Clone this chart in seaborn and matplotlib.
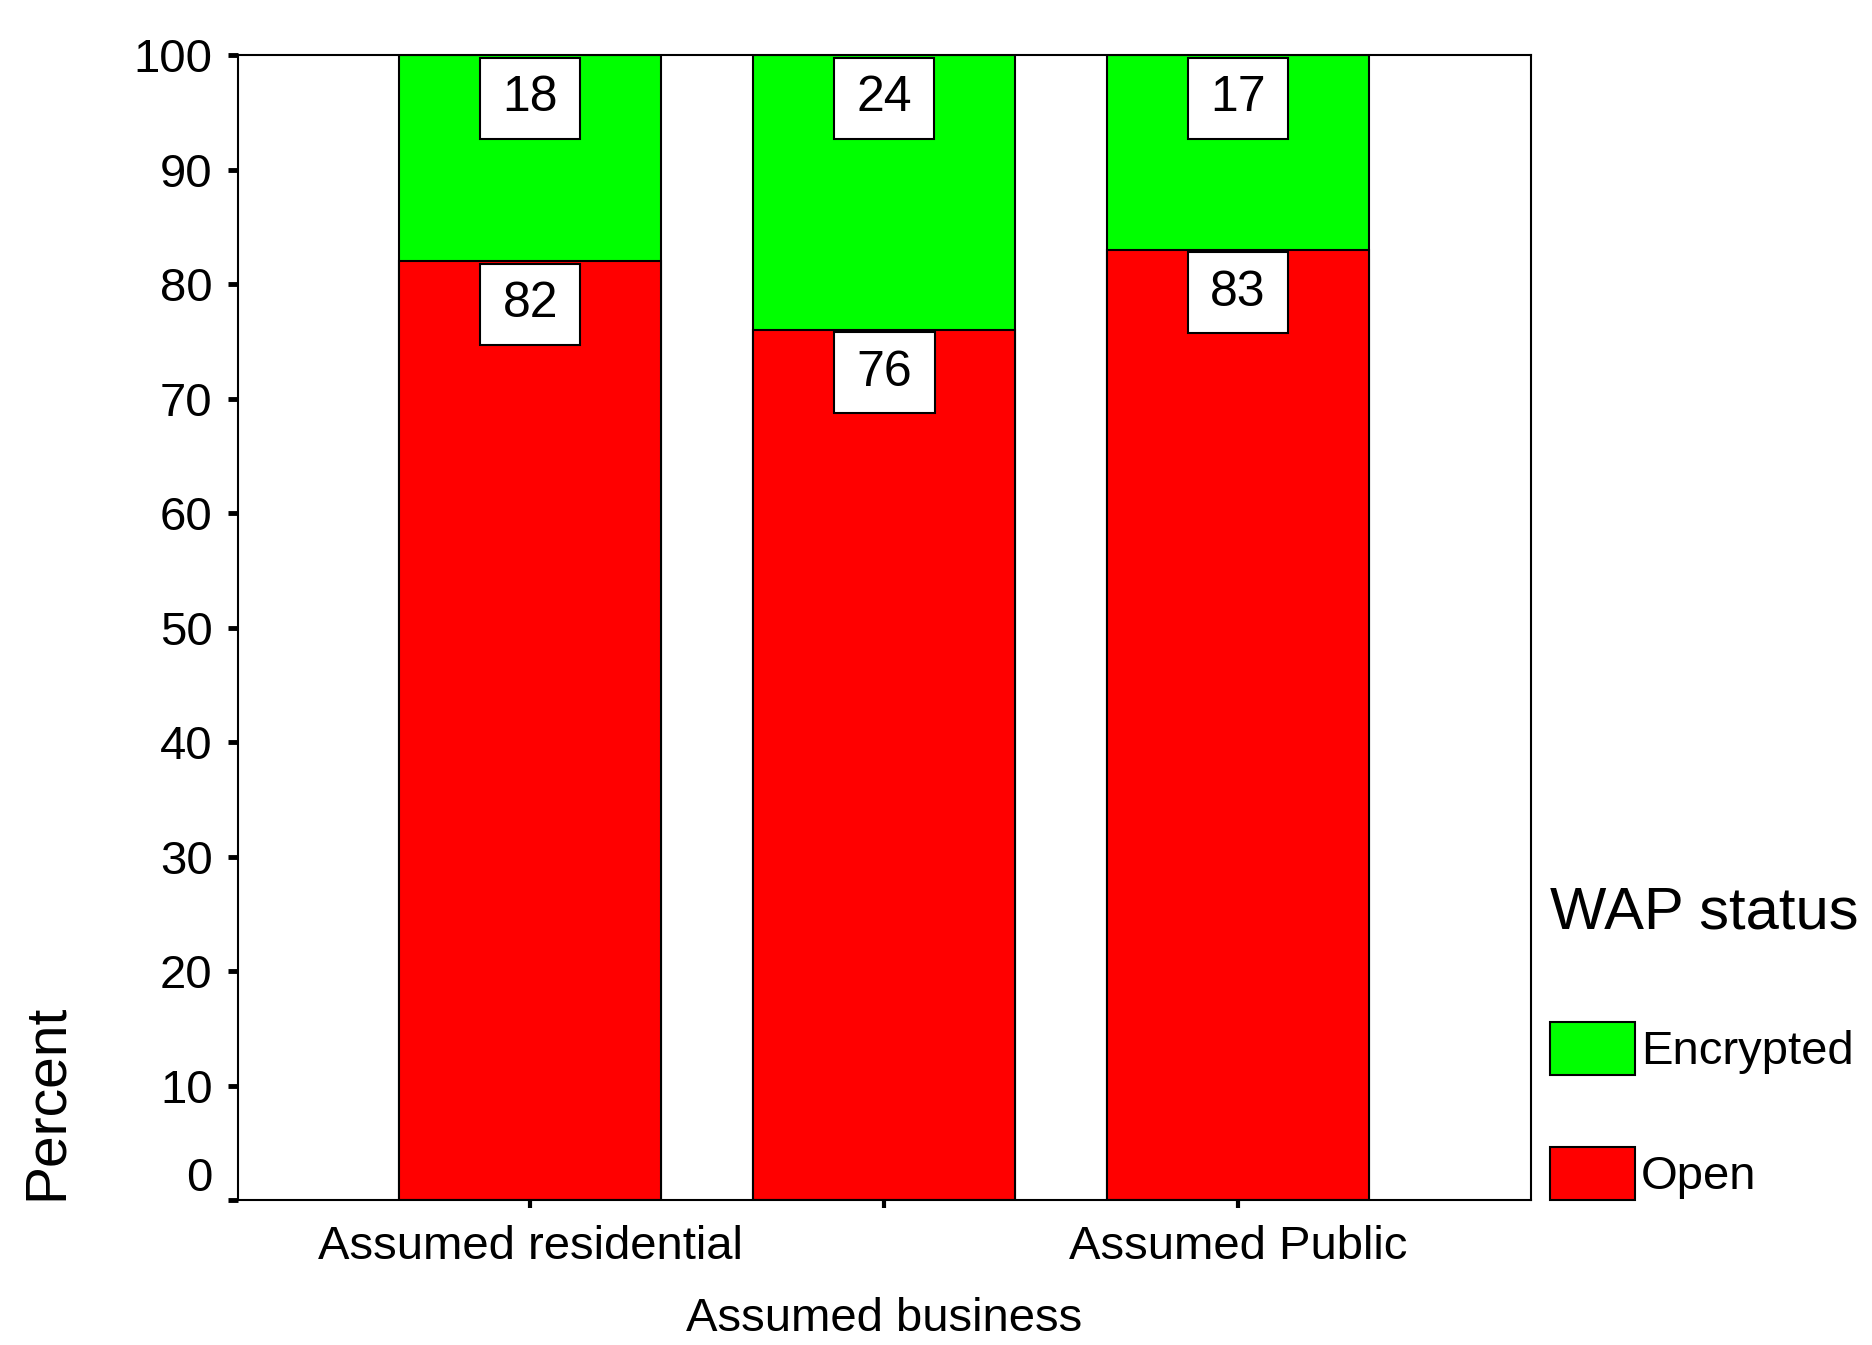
import matplotlib
matplotlib.use("Agg")
import matplotlib.pyplot as plt
import matplotlib.transforms as mtransforms
from matplotlib.path import Path
import seaborn as sns

# Share of wireless access points by assumed location type
categories = ["Assumed residential", "Assumed business", "Assumed Public"]
open_pct = [82, 76, 83]
encrypted_pct = [18, 24, 17]
y_ticks = [0, 10, 20, 30, 40, 50, 60, 70, 80, 90, 100]

totals = [o + e for o, e in zip(open_pct, encrypted_pct)]

sns.set_theme(style="ticks")
plt.rcParams["font.family"] = ["Liberation Sans", "DejaVu Sans"]
plt.rcParams["text.color"] = "black"
plt.rcParams["axes.labelcolor"] = "black"

GREEN = "#00FF00"
RED = "#FF0000"
LABEL_SIZE = 34


def value_box(x0, y0, width, height, mutation_size):
    """Rectangle around a value label, wider padding left/right than top/bottom."""
    px = 0.45 * mutation_size
    py = 0.35 * mutation_size
    x0, y0 = x0 - px, y0 - py
    x1, y1 = x0 + width + 2 * px, y0 + height + 2 * py
    return Path([(x0, y0), (x1, y0), (x1, y1), (x0, y1), (x0, y0)], closed=True)


fig = plt.figure(figsize=(18.72, 13.45), dpi=100)
ax = fig.add_axes([0.1269, 0.1078, 0.6908, 0.8513])

# Stacked bars: full height in green first, open share in red on top of it
sns.barplot(x=categories, y=totals, color=GREEN, saturation=1, width=0.74,
            edgecolor="black", linewidth=1.5, label="Encrypted", ax=ax)
sns.barplot(x=categories, y=open_pct, color=RED, saturation=1, width=0.74,
            edgecolor="black", linewidth=1.5, label="Open", ax=ax)

# Boxed value labels hanging just below the top of each segment
box = dict(boxstyle=value_box, facecolor="white", edgecolor="black", linewidth=1.5)
for i in range(len(categories)):
    for top, val in ((totals[i], encrypted_pct[i]), (open_pct[i], open_pct[i])):
        ax.annotate(f"{val}", xy=(i, top), xytext=(0, -14.5), textcoords="offset points",
                    ha="center", va="top", fontsize=36, color="black", bbox=box)

ax.set_xlim(-0.827, 2.827)
ax.set_ylim(0, 100)
ax.set_yticks(y_ticks)
ax.set_yticklabels([str(t) for t in y_ticks])
ax.set_xticks(range(len(categories)))
ax.set_xticklabels(categories)
ax.set_xlabel("")
ax.set_ylabel("Percent", fontsize=41, color="black")
ax.yaxis.set_label_coords(-0.1265, 0.0856)

for side in ("top", "right", "bottom", "left"):
    ax.spines[side].set_visible(True)
    ax.spines[side].set_color("black")
    ax.spines[side].set_linewidth(1.5)

ax.tick_params(axis="y", direction="out", length=7, width=3.5, pad=11,
               labelsize=LABEL_SIZE, colors="black", left=True)
ax.tick_params(axis="x", direction="out", length=6, width=3, pad=12,
               labelsize=LABEL_SIZE, colors="black", bottom=True)

# Middle category label sits on a lower row
xt = ax.xaxis.get_major_ticks()
xt[1].set_pad(64)

# Lift the "0" label so it clears the baseline
zero_lbl = ax.get_yticklabels()[0]
zero_lbl.set_transform(zero_lbl.get_transform() +
                       mtransforms.ScaledTranslation(0, 0.26, fig.dpi_scale_trans))

ax.grid(False)

handles, labels = ax.get_legend_handles_labels()
leg = ax.legend(handles, labels, title="WAP status", loc="upper left",
                bbox_to_anchor=(0.828, 0.342), bbox_transform=fig.transFigure,
                frameon=False, fontsize=LABEL_SIZE, title_fontsize=43,
                handlelength=1.8, handleheight=1.366, handletextpad=0.12,
                labelspacing=1.51, borderpad=0, borderaxespad=0, alignment="left",
                labelcolor="black")
leg.get_title().set_color("black")
# extra room between the legend title and its entries
leg._legend_box.sep = 59

fig.savefig("out.png", dpi=100, facecolor="white")
